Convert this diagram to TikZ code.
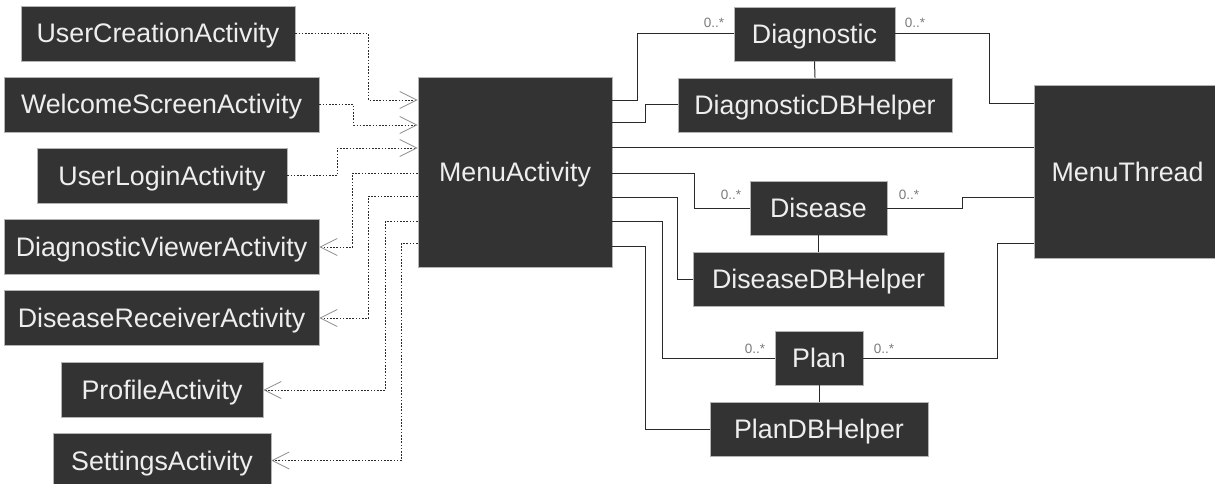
\documentclass[tikz,border=0pt]{standalone}
\usepackage{fontspec}
\setmainfont{Liberation Sans}
\usetikzlibrary{arrows.meta,calc}
\definecolor{boxfill}{HTML}{333333}
\definecolor{boxline}{HTML}{B4B4B4}
\definecolor{boxtext}{HTML}{EEEEEE}
\definecolor{wire}{HTML}{2A2A2A}
\definecolor{multgray}{HTML}{7A7A7A}
\definecolor{tipgray}{HTML}{8A8A8A}
\tikzset{
  cls/.style={draw=boxline, line width=0.8pt, fill=boxfill, text=boxtext,
    font=\fontsize{26.8}{30}\selectfont, inner sep=0pt, text height=19pt,
    text depth=0pt, minimum height=55pt},
  assoc/.style={draw=wire, line width=1pt},
  dep/.style={draw=wire, line width=0.9pt, dash pattern=on 1.6pt off 1.6pt,
    -{Straight Barb[length=17pt,width=17pt,line width=0.8pt,color=tipgray]}},
  mult/.style={text=multgray, font=\fontsize{13.5}{14}\selectfont, inner sep=0pt}
}
\begin{document}
\begin{tikzpicture}[x=1pt,y=-1pt]
\useasboundingbox (0,0) rectangle (1215,484);
\clip (0,0) rectangle (1215,484);

% activities on the left
\node[cls, minimum width=274pt] (uca) at (158,33.5) {UserCreationActivity};
\node[cls, minimum width=315pt] (wsa) at (161.5,104.5) {WelcomeScreenActivity};
\node[cls, minimum width=250pt] (ula) at (162,175.5) {UserLoginActivity};
\node[cls, minimum width=315pt] (dva) at (161.5,247) {DiagnosticViewerActivity};
\node[cls, minimum width=315pt] (dra) at (161.5,318) {DiseaseReceiverActivity};
\node[cls, minimum width=202pt] (pa) at (162,390) {ProfileActivity};
\node[cls, minimum width=218pt] (sa) at (162,460.5) {SettingsActivity};

% central activity and thread
\node[cls, minimum width=194pt, minimum height=190pt] (ma) at (515,172) {MenuActivity};
\node[cls, minimum width=187pt, minimum height=173pt] (mt) at (1127.5,171.5) {MenuThread};

% model classes and their helpers
\node[cls, minimum width=161pt, minimum height=54pt] (diag) at (814.5,34) {Diagnostic};
\node[cls, minimum width=274pt, minimum height=54pt] (ddb) at (815,105) {DiagnosticDBHelper};
\node[cls, minimum width=137pt, minimum height=54pt] (dis) at (818.5,208) {Disease};
\node[cls, minimum width=251pt, minimum height=54pt] (disdb) at (818.5,279) {DiseaseDBHelper};
\node[cls, minimum width=88pt, minimum height=54pt] (plan) at (819,358) {Plan};
\node[cls, minimum width=218pt, minimum height=54pt] (plandb) at (819,429) {PlanDBHelper};

% dependencies into MenuActivity
\draw[dep] (uca.east) -- ++(73,0) |- (ma.west |- 0,100);
\draw[dep] (wsa.east) -- ++(34,0) |- (ma.west |- 0,125);
\draw[dep] (ula.east) -- ++(50,0) |- (ma.west |- 0,148);

% dependencies out of MenuActivity
\draw[dep] (ma.west |- 0,173) -- ++(-65,0) |- (dva.east);
\draw[dep] (ma.west |- 0,196) -- ++(-49,0) |- (dra.east);
\draw[dep] (ma.west |- 0,221) -- ++(-32,0) |- (pa.east);
\draw[dep] (ma.west |- 0,243) -- ++(-16,0) |- (sa.east);

% associations on the right
\draw[assoc] (ma.east |- 0,101) -- ++(25,0) |- (diag.west);
\draw[assoc] (ma.east |- 0,123) -- ++(33,0) |- (ddb.west);
\draw[assoc] (ma.east |- 0,148) -- (mt.west |- 0,148);
\draw[assoc] (ma.east |- 0,173) -- ++(82,0) |- (dis.west);
\draw[assoc] (ma.east |- 0,197) -- ++(65,0) |- (disdb.west);
\draw[assoc] (ma.east |- 0,221) -- ++(50,0) |- (plan.west);
\draw[assoc] (ma.east |- 0,246) -- ++(33,0) |- (plandb.west);

\draw[assoc] (diag.east) -- ++(94,0) |- (mt.west |- 0,104);
\draw[assoc] (dis.east) -- ++(75,0) |- (mt.west |- 0,197);
\draw[assoc] (plan.east) -- ++(134,0) |- (mt.west |- 0,243);

\draw[assoc] (diag.south) -- (ddb.north);
\draw[assoc] (dis.south) -- (disdb.north);
\draw[assoc] (plan.south) -- (plandb.north);

% multiplicities
\node[mult] at (714,23) {0..*};
\node[mult] at (915,23) {0..*};
\node[mult] at (731,195) {0..*};
\node[mult] at (909,195) {0..*};
\node[mult] at (755,349) {0..*};
\node[mult] at (884,349) {0..*};
\end{tikzpicture}
\end{document}
